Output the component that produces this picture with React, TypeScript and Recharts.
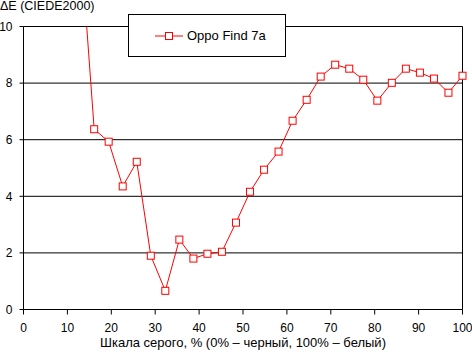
import React from 'react';
import { LineChart, Line, XAxis, YAxis, CartesianGrid, ReferenceLine, Legend, Label } from 'recharts';

const grayLevels = [12.9, 16.1, 19.4, 22.6, 25.8, 29.0, 32.3, 35.5, 38.7, 41.9, 45.2, 48.4, 51.6, 54.8, 58.1, 61.3, 64.5, 67.7, 71.0, 74.2, 77.4, 80.6, 83.9, 87.1, 90.3, 93.5, 96.8, 100];
const deltaE = [13.2, 6.37, 5.93, 4.35, 5.22, 1.9, 0.66, 2.47, 1.8, 1.97, 2.04, 3.07, 4.16, 4.94, 5.58, 6.67, 7.41, 8.23, 8.65, 8.51, 8.12, 7.38, 8.01, 8.51, 8.37, 8.16, 7.66, 8.26];
const xTicks = [0, 10, 20, 30, 40, 50, 60, 70, 80, 90, 100];
const yTicks = [0, 2, 4, 6, 8, 10];
const seriesName = 'Oppo Find 7a';
const yTitle = 'ΔE (CIEDE2000)';
const xTitle = 'Шкала серого, % (0% – черный, 100% – белый)';

const data = grayLevels.map((x, i) => ({ x, v: deltaE[i] }));

const FONT = '"Liberation Sans", Arial, sans-serif';
const RED = '#ff0000';

const SquareDot = (props: any) => {
  const { cx, cy, index } = props;
  if (cx == null || cy == null || !isFinite(cx) || !isFinite(cy)) return <g key={`d-${index}`} />;
  return (
    <rect key={`d-${index}`} x={cx - 3.5} y={cy - 3.5} width={7} height={7} fill="#fff" stroke={RED} strokeWidth={1} />
  );
};

const LegendBox = () => (
  <div
    style={{
      boxSizing: 'border-box',
      width: 158,
      height: 43,
      border: '1px solid #000',
      background: '#fff',
      display: 'flex',
      alignItems: 'center',
      paddingLeft: 26,
      fontFamily: FONT,
      fontSize: 13,
      color: '#000',
    }}
  >
    <svg width={28} height={10} style={{ marginRight: 4 }}>
      <line x1={0} y1={5} x2={28} y2={5} stroke={RED} strokeWidth={1} />
      <rect x={10.5} y={1.5} width={7} height={7} fill="#fff" stroke={RED} strokeWidth={1} />
    </svg>
    <span>{seriesName}</span>
  </div>
);

const YTitle = (props: any) => {
  const vb = props.viewBox || {};
  return (
    <text x={vb.x - 0.5} y={vb.y - 16.5} fill="#000" fontSize={12.5} fontFamily={FONT} textAnchor="start">
      {yTitle}
    </text>
  );
};

export default function App() {
  return (
    <div style={{ position: 'absolute', left: 0, top: 0, width: 472, height: 352, background: '#fff' }}>
      <LineChart
        width={472}
        height={352}
        data={data}
        margin={{ top: 26.5, right: 9.5, bottom: 0, left: 0.5 }}
        style={{ fontFamily: FONT }}
      >
        <CartesianGrid horizontal vertical={false} stroke="#000" strokeWidth={1} yAxisId="main" />
        <XAxis
          dataKey="x"
          type="number"
          domain={[0, 100]}
          ticks={xTicks}
          height={42.5}
          tickSize={5}
          tickMargin={9}
          stroke="#000"
          tick={{ fill: '#000', fontSize: 12, fontFamily: FONT }}
          interval={0}
        >
          <Label value={xTitle} position="insideBottom" offset={5.5} fill="#000" fontSize={13} fontFamily={FONT} />
        </XAxis>
        <YAxis
          yAxisId="main"
          orientation="left"
          type="number"
          domain={[0, 10]}
          allowDataOverflow
          ticks={yTicks}
          width={23}
          tickSize={4}
          tickMargin={7}
          stroke="#000"
          tick={{ fill: '#000', fontSize: 12, fontFamily: FONT }}
          interval={0}
        >
          <Label content={<YTitle />} position="insideTopLeft" />
        </YAxis>
        <YAxis yAxisId="dots" orientation="right" type="number" domain={[0, 10]} width={0} hide />
        <ReferenceLine x={100} yAxisId="main" stroke="#000" strokeWidth={1} />
        <Line
          yAxisId="main"
          type="linear"
          dataKey="v"
          name={seriesName}
          stroke={RED}
          strokeWidth={1}
          dot={false}
          activeDot={false}
          isAnimationActive={false}
        />
        <Line
          yAxisId="dots"
          type="linear"
          dataKey={(d: any) => (d.v <= 10 ? d.v : null)}
          name="markers"
          stroke="none"
          dot={SquareDot}
          activeDot={false}
          legendType="none"
          isAnimationActive={false}
        />
        <Legend
          content={<LegendBox />}
          wrapperStyle={{ position: 'absolute', left: 128, top: 14, width: 0, height: 0, overflow: 'visible' }}
        />
      </LineChart>
    </div>
  );
}
